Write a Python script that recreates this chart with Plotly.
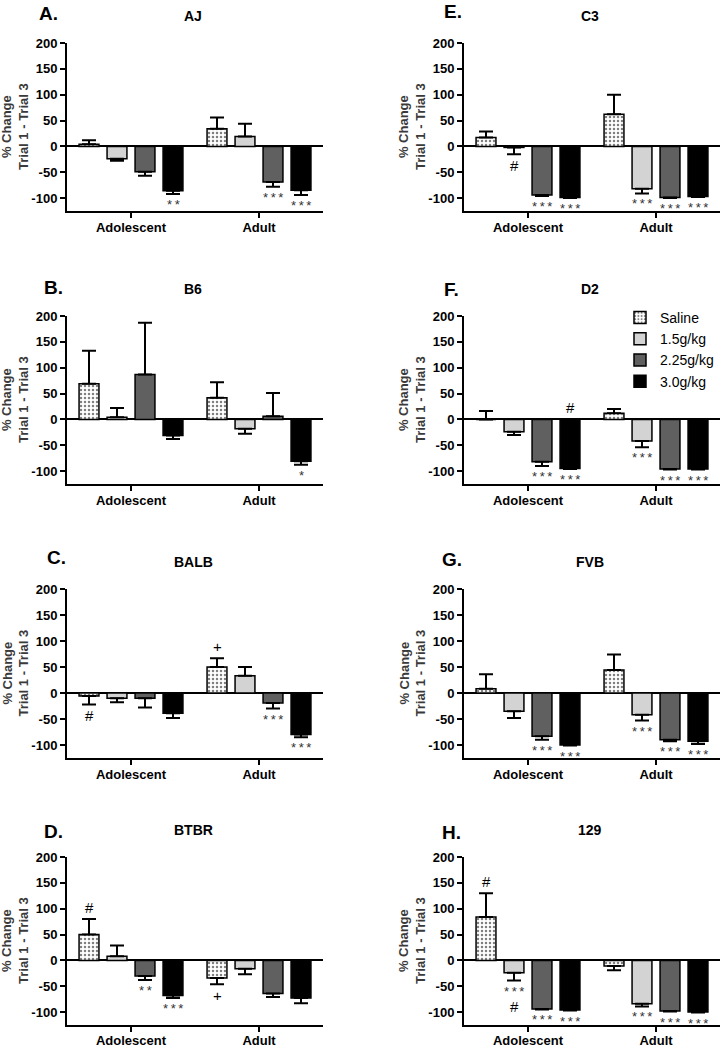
import plotly.graph_objects as go

# ---------------- data ----------------
AGES = ["Adolescent", "Adult"]
DOSES = ["Saline", "1.5g/kg", "2.25g/kg", "3.0g/kg"]
PANEL_LETTERS = ["A.", "B.", "C.", "D.", "E.", "F.", "G.", "H."]
STRAINS = ["AJ", "B6", "BALB", "BTBR", "C3", "D2", "FVB", "129"]
Y_TICKS = [-100, -50, 0, 50, 100, 150, 200]

# mean % change (Trial 1 - Trial 3); rows: Adolescent, Adult; cols: doses
AJ_MEAN = [[4, -24, -49, -86], [34, 19, -69, -85]]
AJ_SEM = [[8, 4, 8, 6], [22, 25, 9, 9]]
B6_MEAN = [[69, 4, 87, -31], [42, -18, 6, -81]]
B6_SEM = [[64, 18, 100, 7], [30, 10, 45, 7]]
BALB_MEAN = [[-6, -10, -10, -39], [50, 33, -19, -80]]
BALB_SEM = [[16, 8, 18, 9], [17, 17, 11, 5]]
BTBR_MEAN = [[50, 8, -30, -68], [-34, -16, -64, -73]]
BTBR_SEM = [[30, 21, 8, 5], [12, 11, 7, 10]]
C3_MEAN = [[17, -2, -94, -99], [62, -82, -99, -97]]
C3_SEM = [[12, 13, 2, 1], [38, 9, 1, 1]]
D2_MEAN = [[0, -24, -82, -95], [12, -42, -96, -96]]
D2_SEM = [[16, 6, 8, 1], [8, 12, 1, 1]]
FVB_MEAN = [[8, -35, -83, -100], [44, -42, -90, -93]]
FVB_SEM = [[28, 13, 7, 1], [30, 11, 3, 5]]
S129_MEAN = [[84, -24, -94, -96], [-11, -84, -98, -100]]
S129_SEM = [[46, 15, 1, 1], [8, 5, 1, 1]]

# significance marks: (strain, age index, dose index, text, side, level)
MARKS = [
    ("AJ", 0, 3, "**", "below", 0), ("AJ", 1, 2, "***", "below", 0), ("AJ", 1, 3, "***", "below", 0),
    ("B6", 1, 3, "*", "below", 0),
    ("BALB", 0, 0, "#", "below", 0), ("BALB", 1, 0, "+", "above", 0),
    ("BALB", 1, 2, "***", "below", 0), ("BALB", 1, 3, "***", "below", 0),
    ("BTBR", 0, 0, "#", "above", 0), ("BTBR", 0, 2, "**", "below", 0),
    ("BTBR", 0, 3, "***", "below", 0), ("BTBR", 1, 0, "+", "below", 0),
    ("C3", 0, 1, "#", "below", 0), ("C3", 0, 2, "***", "below", 0), ("C3", 0, 3, "***", "below", 0),
    ("C3", 1, 1, "***", "below", 0), ("C3", 1, 2, "***", "below", 0), ("C3", 1, 3, "***", "below", 0),
    ("D2", 0, 2, "***", "below", 0), ("D2", 0, 3, "***", "below", 0), ("D2", 0, 3, "#", "above", 0),
    ("D2", 1, 1, "***", "below", 0), ("D2", 1, 2, "***", "below", 0), ("D2", 1, 3, "***", "below", 0),
    ("FVB", 0, 2, "***", "below", 0), ("FVB", 0, 3, "***", "below", 0),
    ("FVB", 1, 1, "***", "below", 0), ("FVB", 1, 2, "***", "below", 0), ("FVB", 1, 3, "***", "below", 0),
    ("129", 0, 0, "#", "above", 0), ("129", 0, 1, "***", "below", 0), ("129", 0, 1, "#", "below", 1),
    ("129", 0, 2, "***", "below", 0), ("129", 0, 3, "***", "below", 0),
    ("129", 1, 1, "***", "below", 0), ("129", 1, 2, "***", "below", 0), ("129", 1, 3, "***", "below", 0),
]

MEANS = {"AJ": AJ_MEAN, "B6": B6_MEAN, "BALB": BALB_MEAN, "BTBR": BTBR_MEAN,
         "C3": C3_MEAN, "D2": D2_MEAN, "FVB": FVB_MEAN, "129": S129_MEAN}
SEMS = {"AJ": AJ_SEM, "B6": B6_SEM, "BALB": BALB_SEM, "BTBR": BTBR_SEM,
        "C3": C3_SEM, "D2": D2_SEM, "FVB": FVB_SEM, "129": S129_SEM}

# ---------------- style / layout ----------------
W, H = 720, 1050
FONT = "Arial, Liberation Sans, sans-serif"
FILLS = ["white", "#d3d3d3", "#606060", "#000000"]
COL_X = [(67, 323), (464, 720)]
ROW_Y = [(43, 211), (316, 484), (589, 758), (857, 1025)]
LETTER_POS = [(37, 13), (42, 288), (45, 557), (42, 831), (442, 11), (442, 289), (440, 559), (440, 832)]
BARGAP = 0.125

fig = go.Figure()
layout = {}
annotations = []

for i, strain in enumerate(STRAINS):
    col, row = divmod(i, 4)
    k = i + 1
    xa = "x" if k == 1 else f"x{k}"
    ya = "y" if k == 1 else f"y{k}"
    means, sems = MEANS[strain], SEMS[strain]
    for d, dose in enumerate(DOSES):
        ys = [means[a][d] for a in range(2)]
        es = [sems[a][d] for a in range(2)]
        up = [e if v >= 0 else 0 for v, e in zip(ys, es)]
        dn = [e if v < 0 else 0 for v, e in zip(ys, es)]
        pattern = dict(shape=".", fgcolor="black", bgcolor="white", size=4, solidity=0.3) if d == 0 else dict(shape="")
        fig.add_trace(go.Bar(
            x=AGES, y=ys, name=dose, xaxis=xa, yaxis=ya,
            showlegend=(strain == "D2"), legendgroup=dose,
            marker=dict(color=FILLS[d], line=dict(color="black", width=1.5), pattern=pattern),
            error_y=dict(type="data", symmetric=False, array=up, arrayminus=dn,
                         color="black", thickness=2, width=7),
        ))

    x0, x1 = COL_X[col]
    y0, y1 = ROW_Y[row]
    axfont = dict(family=FONT, size=13, color="black", weight="bold")
    layout["xaxis" + ("" if k == 1 else str(k))] = dict(
        domain=[x0 / W, x1 / W], anchor=ya, type="category", range=[-0.5, 1.5],
        showline=True, linewidth=2, linecolor="black", ticks="outside", ticklen=5,
        tickwidth=2, tickcolor="black", tickfont=axfont, showgrid=False, zeroline=False,
        automargin=False, ticklabelstandoff=-3 if row == 3 else -2,
    )
    layout["yaxis" + ("" if k == 1 else str(k))] = dict(
        domain=[1 - y1 / H, 1 - y0 / H], anchor=xa, range=[-125, 200],
        showline=True, linewidth=2, linecolor="black", ticks="outside", ticklen=5,
        tickwidth=2, tickcolor="black", tickvals=Y_TICKS, ticktext=[str(t) for t in Y_TICKS],
        tickfont=axfont, showgrid=False, zeroline=True, zerolinewidth=2, zerolinecolor="black",
        automargin=False,
    )

    # panel letter
    lx, ly = LETTER_POS[i]
    annotations.append(dict(text="<b>" + PANEL_LETTERS[i] + "</b>", xref="paper", yref="paper",
                            x=lx / W, y=1 - ly / H, xanchor="left", yanchor="middle", showarrow=False,
                            font=dict(family=FONT, size=19, color="black")))
    # strain title
    annotations.append(dict(text="<b>" + strain + "</b>", xref="paper", yref="paper",
                            x=(x0 + x1) / 2 / W - 2 / W, y=1 - (y0 - 27) / H, xanchor="center",
                            yanchor="middle", showarrow=False,
                            font=dict(family=FONT, size=14, color="black")))
    # y axis title
    annotations.append(dict(text="<b>% Change<br>Trial 1 - Trial 3</b>", xref="paper", yref="paper",
                            x=(x0 - 52) / W, y=1 - (y0 + y1) / 2 / H, xanchor="center", yanchor="middle",
                            textangle=-90, showarrow=False,
                            font=dict(family=FONT, size=13, color="#3a3a3a")))

# significance markers
slot = (1 - BARGAP) / len(DOSES)
for strain, a, d, txt, side, level in MARKS:
    i = STRAINS.index(strain)
    k = i + 1
    xa = "x" if k == 1 else f"x{k}"
    ya = "y" if k == 1 else f"y{k}"
    v = MEANS[strain][a][d]
    e = SEMS[strain][a][d]
    xpos = a + (d - 1.5) * slot
    star = "*" in txt
    shown = "\u2009".join(txt) if star else txt
    fnt = dict(family=FONT, size=13 if star else 15, color="#333" if star else "black")
    if side == "below":
        ypos = min(v - (e if v < 0 else 0), 0)
        annotations.append(dict(text=shown, x=xpos, y=ypos, xref=xa, yref=ya, xanchor="center",
                                yanchor="top", showarrow=False, font=fnt,
                                yshift=-1 - 14 * level))
    else:
        ypos = max(v + (e if v >= 0 else 0), 0)
        annotations.append(dict(text=shown, x=xpos, y=ypos, xref=xa, yref=ya, xanchor="center",
                                yanchor="bottom", showarrow=False, font=fnt, yshift=1))

fig.update_layout(
    width=W, height=H, margin=dict(l=0, r=0, t=0, b=0, pad=0, autoexpand=False),
    paper_bgcolor="white", plot_bgcolor="white",
    barmode="group", bargap=BARGAP, bargroupgap=0.29,
    font=dict(family=FONT, color="black"),
    showlegend=True,
    legend=dict(x=620 / W, y=1 - 302 / H, xanchor="left", yanchor="top",
                font=dict(family=FONT, size=14, color="black"), bgcolor="rgba(0,0,0,0)",
                tracegroupgap=0, itemwidth=30),
    annotations=annotations,
    **layout,
)

POST = """
var d=document.documentElement, b=document.body;
[d,b].forEach(function(e){e.style.margin='0';e.style.padding='0';e.style.overflow='hidden';});
"""

fig.write_html("out.html", config={"displayModeBar": False}, post_script=POST)
